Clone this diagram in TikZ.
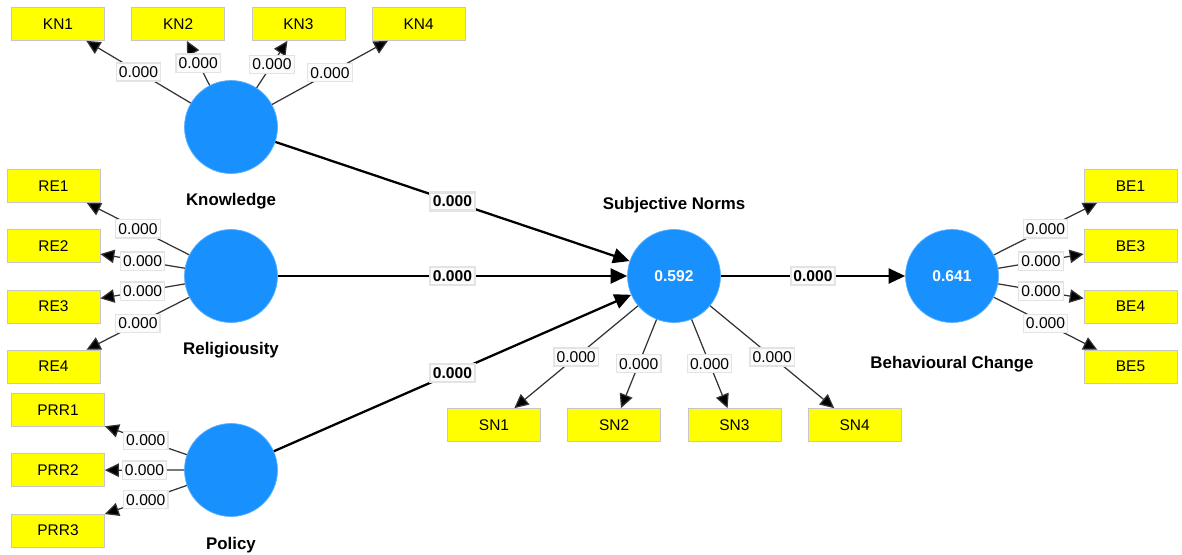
\documentclass[tikz,border=0pt]{standalone}
\usepackage{fontspec}
\setmainfont{Liberation Sans}
\usetikzlibrary{positioning, arrows.meta}
\definecolor{lvblue}{RGB}{24,145,255}
\definecolor{indyellow}{RGB}{255,255,0}

\begin{document}
\begin{tikzpicture}[
     node distance = 5.3mm and 5.3mm,
         lv/.style = {circle, draw=lvblue!70!white, fill=lvblue, minimum size=18.6mm,
                      inner sep=0pt, text=white, font=\bfseries\fontsize{8.9}{10}\selectfont},
        ind/.style = {rectangle, draw=gray!45, fill=indyellow,
                      minimum width=18.6mm, minimum height=6.6mm,
                      font=\fontsize{8.8}{10}\selectfont},
     lvname/.style = {inner sep=0pt, font=\bfseries\fontsize{9.6}{11}\selectfont},
        val/.style = {draw=gray!22, fill=gray!3, inner xsep=1.5pt, inner ysep=2pt,
                      pos=.5, font=\fontsize{8.9}{10}\selectfont},
       bval/.style = {val, font=\bfseries\fontsize{8.9}{10}\selectfont},
    loading/.style = {draw=black!80, line width=0.7pt, -{Triangle[length=2.8mm,width=2.7mm,fill=black]}},
     struct/.style = {line width=1.3pt, -{Triangle[length=3.3mm,width=3mm]}}
                        ]
\useasboundingbox (0,0) rectangle (23.64,-11.08);
% latent variables
\node (K)  [lv] at (4.62,-2.54)  {};
\node (R)  [lv] at (4.62,-5.52)  {};
\node (P)  [lv] at (4.62,-9.40)  {};
\node (SN) [lv] at (13.48,-5.52) {0.592};
\node (BC) [lv] at (19.04,-5.52) {0.641};
\node (Klab)  [lvname, below=3.8mm of K]  {Knowledge};
\node (Rlab)  [lvname, below=3.8mm of R]  {Religiousity};
\node (Plab)  [lvname, below=4mm of P]    {Policy};
\node (SNlab) [lvname, above=3.2mm of SN] {Subjective Norms};
\node (BClab) [lvname, below=6.6mm of BC] {Behavioural Change};
% indicators
\node (KN1) [ind] at (1.16,-0.48) {KN1};
\node (KN2) [ind, right=of KN1] {KN2};
\node (KN3) [ind, right=of KN2] {KN3};
\node (KN4) [ind, right=of KN3] {KN4};
\node (RE1) [ind] at (1.07,-3.72) {RE1};
\node (RE2) [ind, below=of RE1] {RE2};
\node (RE3) [ind, below=of RE2] {RE3};
\node (RE4) [ind, below=of RE3] {RE4};
\node (PRR1) [ind] at (1.16,-8.20) {PRR1};
\node (PRR2) [ind, below=of PRR1] {PRR2};
\node (PRR3) [ind, below=of PRR2] {PRR3};
\node (SN1) [ind] at (9.88,-8.50) {SN1};
\node (SN2) [ind, right=of SN1] {SN2};
\node (SN3) [ind, right=of SN2] {SN3};
\node (SN4) [ind, right=of SN3] {SN4};
\node (BE1) [ind] at (22.61,-3.72) {BE1};
\node (BE3) [ind, below=of BE1] {BE3};
\node (BE4) [ind, below=of BE3] {BE4};
\node (BE5) [ind, below=of BE4] {BE5};
% outer loadings
\draw[loading] (K) to node[val] {0.000} (KN1);
\draw[loading] (K) to node[val] {0.000} (KN2);
\draw[loading] (K) to node[val] {0.000} (KN3);
\draw[loading] (K) to node[val] {0.000} (KN4);
\draw[loading] (R) to node[val] {0.000} (RE1);
\draw[loading] (R) to node[val] {0.000} (RE2);
\draw[loading] (R) to node[val] {0.000} (RE3);
\draw[loading] (R) to node[val] {0.000} (RE4);
\draw[loading] (P) to node[val] {0.000} (PRR1);
\draw[loading] (P) to node[val] {0.000} (PRR2);
\draw[loading] (P) to node[val] {0.000} (PRR3);
\draw[loading] (SN) to node[val] {0.000} (SN1);
\draw[loading] (SN) to node[val] {0.000} (SN2);
\draw[loading] (SN) to node[val] {0.000} (SN3);
\draw[loading] (SN) to node[val] {0.000} (SN4);
\draw[loading] (BC) to node[val] {0.000} (BE1);
\draw[loading] (BC) to node[val] {0.000} (BE3);
\draw[loading] (BC) to node[val] {0.000} (BE4);
\draw[loading] (BC) to node[val] {0.000} (BE5);
% structural paths
\draw[struct] (K)  to node[bval] {0.000} (SN);
\draw[struct] (R)  to node[bval] {0.000} (SN);
\draw[struct] (P)  to node[bval] {0.000} (SN);
\draw[struct] (SN) to node[bval] {0.000} (BC);
\end{tikzpicture}
\end{document}
